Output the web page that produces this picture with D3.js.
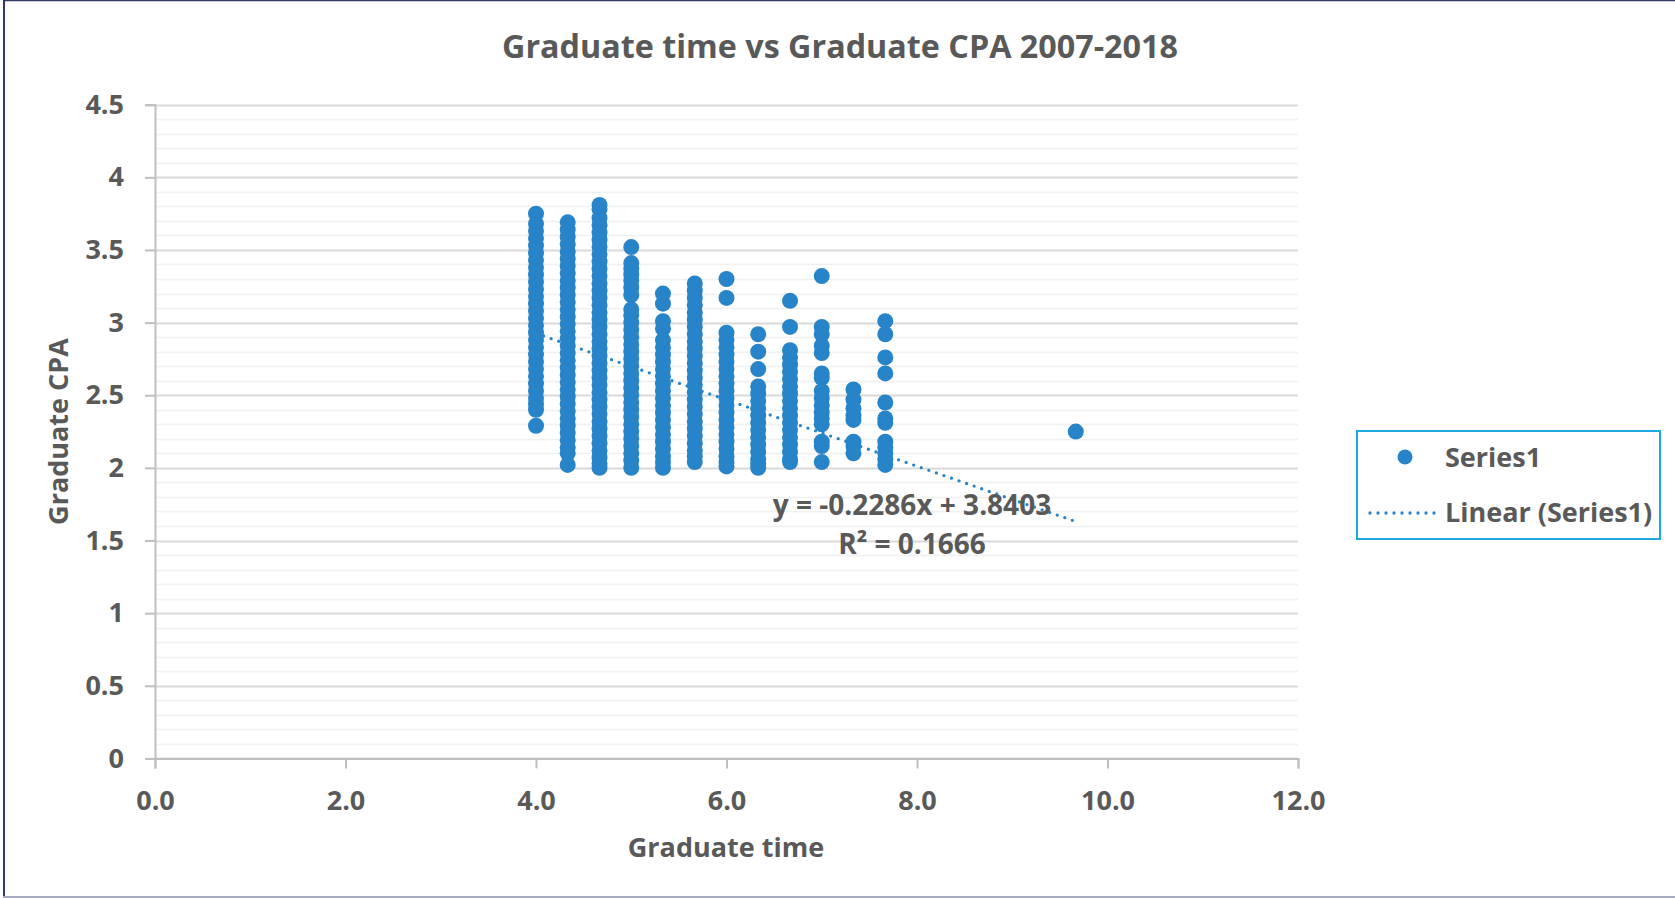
<!DOCTYPE html>
<html>
<head>
<meta charset="utf-8">
<script src="https://cdn.jsdelivr.net/npm/d3@7"></script>
<style>
  body { margin: 0; background: #fff; }
  svg text { font-family: "Open Sans", sans-serif; font-weight: 700; fill: #595959; }
</style>
</head>
<body>
<svg id="chart" width="1675" height="898"></svg>
<script>
// graduate time columns (years) and the CPA values
var gradTime = [4.0, 4.333, 4.667, 5.0, 5.333, 5.667, 6.0, 6.333, 6.667, 7.0, 7.333, 7.667, 9.667];

var cpa = [
  [3.75, 3.68, 3.63, 3.58, 3.53, 3.48, 3.43, 3.38, 3.33, 3.28, 3.23, 3.18, 3.13, 3.08, 3.03, 2.98, 2.93, 2.88, 2.83, 2.78, 2.73, 2.68, 2.63, 2.58, 2.53, 2.48, 2.44, 2.40, 2.29],
  [3.69, 3.64, 3.59, 3.54, 3.49, 3.44, 3.39, 3.34, 3.29, 3.24, 3.19, 3.14, 3.09, 3.04, 2.99, 2.94, 2.89, 2.84, 2.79, 2.74, 2.69, 2.64, 2.59, 2.54, 2.49, 2.44, 2.39, 2.34, 2.29, 2.24, 2.19, 2.14, 2.10, 2.02],
  [3.81, 3.78, 3.72, 3.67, 3.62, 3.57, 3.52, 3.47, 3.42, 3.37, 3.32, 3.27, 3.22, 3.17, 3.12, 3.07, 3.02, 2.97, 2.92, 2.87, 2.82, 2.77, 2.72, 2.67, 2.62, 2.57, 2.52, 2.47, 2.42, 2.37, 2.32, 2.27, 2.22, 2.17, 2.12, 2.07, 2.03, 2.00],
  [3.52, 3.41, 3.37, 3.33, 3.29, 3.24, 3.19, 3.09, 3.05, 3.00, 2.95, 2.90, 2.85, 2.80, 2.75, 2.70, 2.65, 2.60, 2.55, 2.50, 2.45, 2.40, 2.35, 2.30, 2.25, 2.20, 2.15, 2.10, 2.05, 2.00],
  [3.20, 3.13, 3.01, 2.96, 2.88, 2.83, 2.78, 2.73, 2.68, 2.63, 2.58, 2.53, 2.48, 2.43, 2.38, 2.33, 2.28, 2.23, 2.18, 2.13, 2.08, 2.04, 2.00],
  [3.27, 3.22, 3.17, 3.12, 3.07, 3.02, 2.97, 2.92, 2.87, 2.82, 2.77, 2.72, 2.67, 2.62, 2.57, 2.52, 2.47, 2.42, 2.37, 2.32, 2.27, 2.22, 2.17, 2.12, 2.08, 2.04],
  [3.30, 3.17, 2.93, 2.88, 2.83, 2.78, 2.73, 2.68, 2.63, 2.58, 2.53, 2.48, 2.43, 2.38, 2.33, 2.28, 2.23, 2.18, 2.13, 2.08, 2.04, 2.01],
  [2.92, 2.80, 2.68, 2.56, 2.51, 2.46, 2.41, 2.36, 2.31, 2.26, 2.21, 2.16, 2.11, 2.06, 2.03, 2.00],
  [3.15, 2.97, 2.81, 2.76, 2.71, 2.66, 2.61, 2.56, 2.51, 2.46, 2.41, 2.36, 2.31, 2.26, 2.21, 2.16, 2.11, 2.06, 2.04],
  [3.32, 2.97, 2.92, 2.84, 2.79, 2.65, 2.62, 2.53, 2.48, 2.43, 2.38, 2.34, 2.30, 2.18, 2.15, 2.04],
  [2.54, 2.47, 2.41, 2.36, 2.33, 2.18, 2.15, 2.10],
  [3.01, 2.92, 2.76, 2.65, 2.45, 2.34, 2.31, 2.18, 2.14, 2.10, 2.06, 2.02],
  [2.25]
];

var trendSlope = -0.2286;
var trendIntercept = 3.8403;
var trendText = ["y = -0.2286x + 3.8403", "R\u00b2 = 0.1666"];

var xTicks = [0, 2, 4, 6, 8, 10, 12];
var yTicks = [0, 0.5, 1, 1.5, 2, 2.5, 3, 3.5, 4, 4.5];
var yMinor = d3.range(0, 46).map(function(i) { return i / 10; });

var blue = "#2784c8";

var svg = d3.select("#chart");

// outer frame
svg.append("line").attr("x1", 3).attr("x2", 1675).attr("y1", 0.5).attr("y2", 0.5)
  .attr("stroke", "#2e3a63").attr("stroke-width", 1.5);
svg.append("line").attr("x1", 4).attr("x2", 4).attr("y1", 0).attr("y2", 898)
  .attr("stroke", "#2e3a63").attr("stroke-width", 2);
svg.append("line").attr("x1", 3).attr("x2", 1675).attr("y1", 897).attr("y2", 897)
  .attr("stroke", "#a7abbf").attr("stroke-width", 2);

var x = d3.scaleLinear().domain([0, 12]).range([155, 1298]);
var y = d3.scaleLinear().domain([0, 4.5]).range([758.4, 104.7]);

// gridlines
svg.append("g").selectAll("line").data(yMinor).join("line")
  .attr("x1", x(0)).attr("x2", x(12))
  .attr("y1", function(d) { return Math.round(y(d)) + 0.5; })
  .attr("y2", function(d) { return Math.round(y(d)) + 0.5; })
  .attr("stroke", function(d) { return Math.round(d * 10) % 5 === 0 ? "#d9d9d9" : "#f0f0f0"; })
  .attr("stroke-width", function(d) { return Math.round(d * 10) % 5 === 0 ? 2 : 1.5; });

// axes
var xAxis = svg.append("g")
  .attr("transform", "translate(0," + y(0) + ")")
  .call(d3.axisBottom(x).tickValues(xTicks).tickSize(10).tickPadding(22).tickFormat(d3.format(".1f")));
var yAxis = svg.append("g")
  .attr("transform", "translate(" + x(0) + ",0)")
  .call(d3.axisLeft(y).tickValues(yTicks).tickSize(10).tickPadding(21).tickFormat(function(d) { return String(d); }));

[xAxis, yAxis].forEach(function(a) {
  a.select(".domain").attr("stroke", "#bfbfbf").attr("stroke-width", 2);
  a.selectAll(".tick line").attr("stroke", "#bfbfbf").attr("stroke-width", 2);
  a.selectAll(".tick text").style("font-size", "27px").attr("fill", "#595959")
    .style("font-family", "'Open Sans', sans-serif").style("font-weight", 700);
});
xAxis.selectAll(".tick text").attr("dy", "0.71em");

// points
var pts = [];
gradTime.forEach(function(t, i) {
  cpa[i].forEach(function(v) { pts.push([t, v]); });
});
svg.append("g").selectAll("circle").data(pts).join("circle")
  .attr("cx", function(d) { return x(d[0]); })
  .attr("cy", function(d) { return y(d[1]); })
  .attr("r", 8)
  .attr("fill", blue);

// linear trendline over the data range
var tExt = d3.extent(gradTime);
svg.append("path")
  .datum(tExt)
  .attr("d", d3.line()
    .x(function(d) { return x(d); })
    .y(function(d) { return y(trendSlope * d + trendIntercept); }))
  .attr("fill", "none")
  .attr("stroke", blue)
  .attr("stroke-width", 3.3)
  .attr("stroke-linecap", "round")
  .attr("stroke-dasharray", "0 8");

svg.append("g").selectAll("text").data(trendText).join("text")
  .attr("x", 912)
  .attr("y", function(d, i) { return 515 + i * 39; })
  .attr("text-anchor", "middle")
  .style("font-size", "28px")
  .text(function(d) { return d; });

// titles
svg.append("text").attr("x", 840).attr("y", 58).attr("text-anchor", "middle")
  .style("font-size", "32.3px").text("Graduate time vs Graduate CPA 2007-2018");
svg.append("text").attr("x", 726).attr("y", 857).attr("text-anchor", "middle")
  .style("font-size", "27px").text("Graduate time");
svg.append("text").attr("transform", "translate(68," + ((y(0) + y(4.5)) / 2) + ") rotate(-90)")
  .attr("text-anchor", "middle")
  .style("font-size", "27px").text("Graduate CPA");

// legend
var lg = svg.append("g");
lg.append("rect").attr("x", 1357).attr("y", 431).attr("width", 303).attr("height", 108)
  .attr("fill", "#fff").attr("stroke", "#1fa8e2").attr("stroke-width", 2);
lg.append("circle").attr("cx", 1405).attr("cy", 457).attr("r", 7.5).attr("fill", blue);
lg.append("line").attr("x1", 1370).attr("x2", 1436).attr("y1", 513).attr("y2", 513)
  .attr("stroke", blue).attr("stroke-width", 3.3).attr("stroke-linecap", "round")
  .attr("stroke-dasharray", "0 8");
lg.append("text").attr("x", 1445).attr("y", 467).style("font-size", "27px").text("Series1");
lg.append("text").attr("x", 1445).attr("y", 522).style("font-size", "27px").text("Linear (Series1)");
</script>
</body>
</html>
